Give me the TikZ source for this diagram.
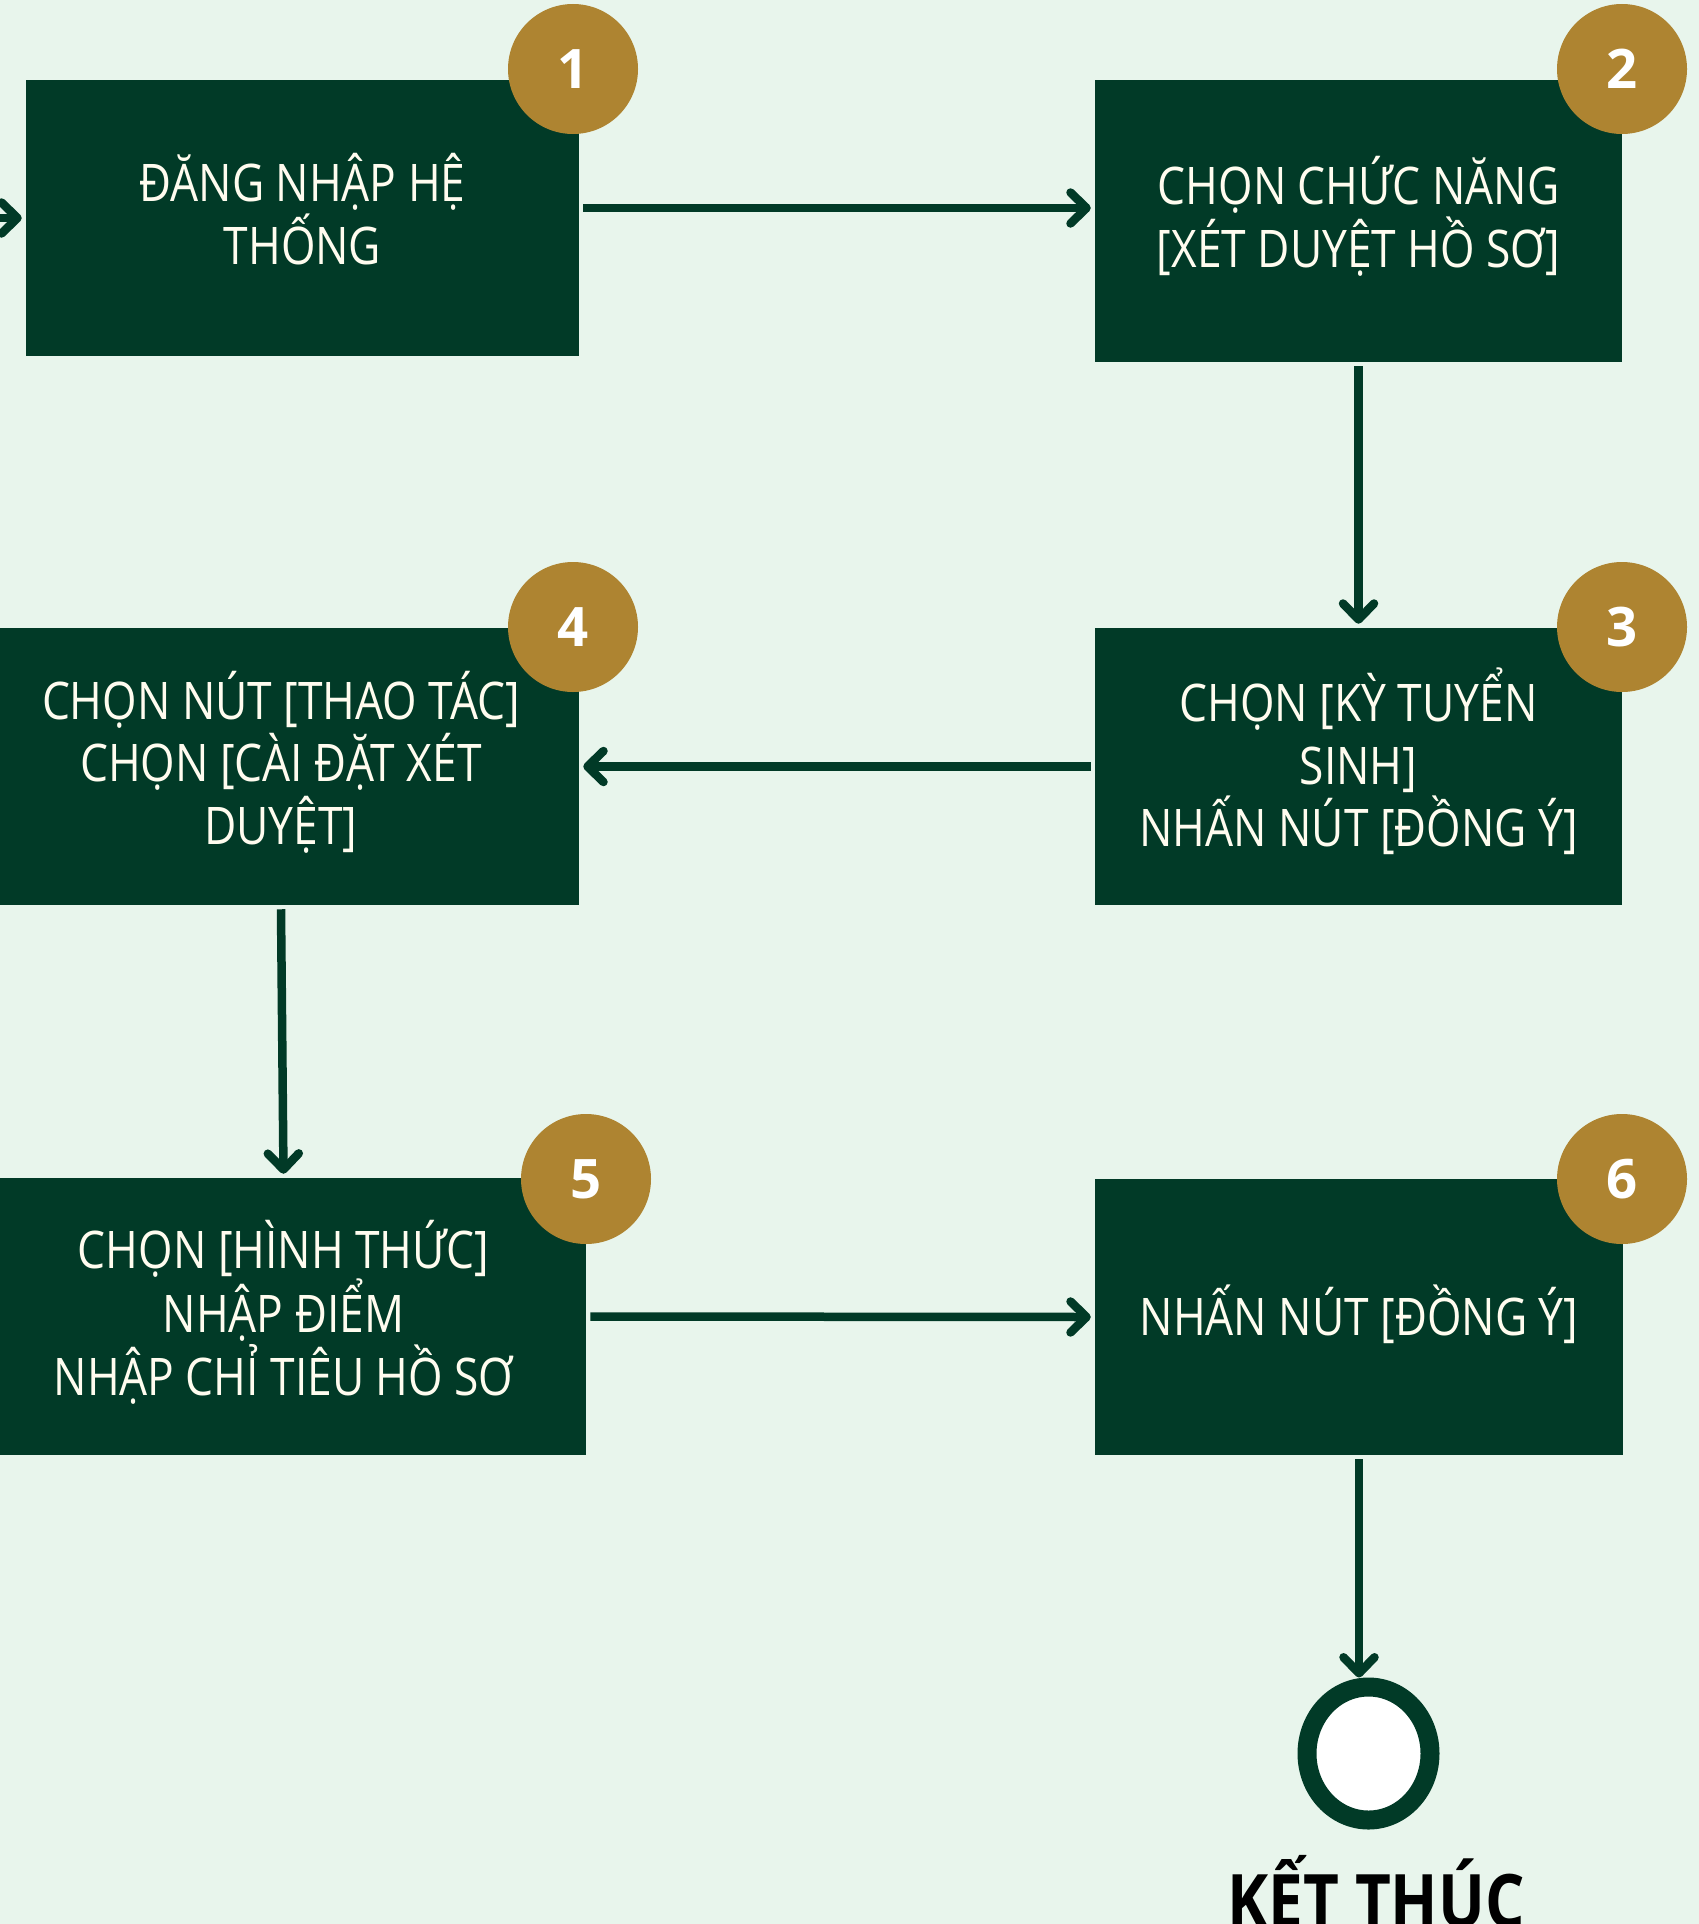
\documentclass[tikz,border=0pt]{standalone}
\usepackage{fontspec}
\setmainfont{Open Sans}
\newfontfamily\stepfont[FakeStretch=0.855]{Open Sans}
\newfontfamily\finfont[FakeStretch=0.84]{Open Sans}
\usetikzlibrary{arrows.meta,shapes.geometric}
\definecolor{bgmint}{HTML}{E8F5EC}
\definecolor{boxgreen}{HTML}{013A27}
\definecolor{badgegold}{HTML}{AE8431}
\definecolor{textcream}{HTML}{FFFCEF}

\begin{document}
\begin{tikzpicture}[line width=.17cm] % whole flow
\tikzstyle{procbox}=[fill=boxgreen,text=textcream,align=center,inner sep=0pt,
  font=\stepfont\fontsize{29.5}{35.6}\selectfont,
  execute at begin node={\rule{0pt}{1.06em}},
  execute at end node={\rule[-.346em]{0pt}{0pt}}]
\tikzstyle{badge}=[shape=circle,fill=badgegold,text=white,minimum size=2.6cm,
  inner sep=0pt,font=\bfseries\fontsize{31}{31}\selectfont]
\tikzstyle{endstate}=[shape=ellipse,draw=boxgreen,fill=white,line width=.38cm,
  minimum width=2.46cm,minimum height=2.66cm,inner sep=0pt]
\tikzstyle{arr}=[draw=boxgreen,-{Straight Barb[length=.32cm,width=.62cm,round]}]

% background
\fill[bgmint] (0,0) rectangle (33.98,-38.48);
\useasboundingbox (0,0) rectangle (33.98,-38.48);

% top row
\draw (6.05,-4.36) node[procbox,minimum width=11.06cm,minimum height=5.52cm] (s1)
  {ĐĂNG NHẬP HỆ\\THỐNG}; % s1
\draw (27.17,-4.42) node[procbox,minimum width=10.54cm,minimum height=5.64cm] (s2)
  {CHỌN CHỨC NĂNG\\{}[XÉT DUYỆT HỒ SƠ]}; % s2

% middle row
\draw (27.17,-15.33) node[procbox,minimum width=10.54cm,minimum height=5.54cm] (s3)
  {CHỌN [KỲ TUYỂN\\SINH]\\NHẤN NÚT [ĐỒNG Ý]}; % s3
\draw (5.62,-15.33) node[procbox,minimum width=11.92cm,minimum height=5.54cm] (s4)
  {CHỌN NÚT [THAO TÁC]\\CHỌN [CÀI ĐẶT XÉT\\DUYỆT]}; % s4

% bottom row
\draw (5.67,-26.33) node[procbox,minimum width=12.1cm,minimum height=5.54cm] (s5)
  {CHỌN [HÌNH THỨC]\\NHẬP ĐIỂM\\NHẬP CHỈ TIÊU HỒ SƠ}; % s5
\draw (27.18,-26.34) node[procbox,minimum width=10.56cm,minimum height=5.52cm] (s6)
  {NHẤN NÚT [ĐỒNG Ý]}; % s6

% end state
\draw (27.37,-35.07) node[endstate] (fin) {}; % fin
\draw (27.52,-38.54) node[anchor=base,font=\finfont\bfseries\fontsize{42}{42}\selectfont] (finlabel) {KẾT THÚC};

% connectors
\coordinate (start) at (-0.6,-4.36);
\draw[arr] (start) -- (s1.west);
\draw[arr] ([yshift=.2cm]s1.east) -- ([yshift=.26cm]s2.west);
\draw[arr] (s2.south) -- (s3.north);
\draw[arr] (s3.west) -- (s4.east);
\draw[arr] (s4.south) -- (s5.north);
\draw[arr] (s5.east) -- (s6.west);
\draw[arr] (s6.south) -- (s6.south |- fin.north);

% number badges
\draw (11.46,-1.38) node[badge] (b1) {1}; % b1
\draw (32.44,-1.38) node[badge] (b2) {2}; % b2
\draw (32.44,-12.54) node[badge] (b3) {3}; % b3
\draw (11.46,-12.54) node[badge] (b4) {4}; % b4
\draw (11.72,-23.58) node[badge] (b5) {5}; % b5
\draw (32.44,-23.58) node[badge] (b6) {6}; % b6
\end{tikzpicture}
\end{document}
